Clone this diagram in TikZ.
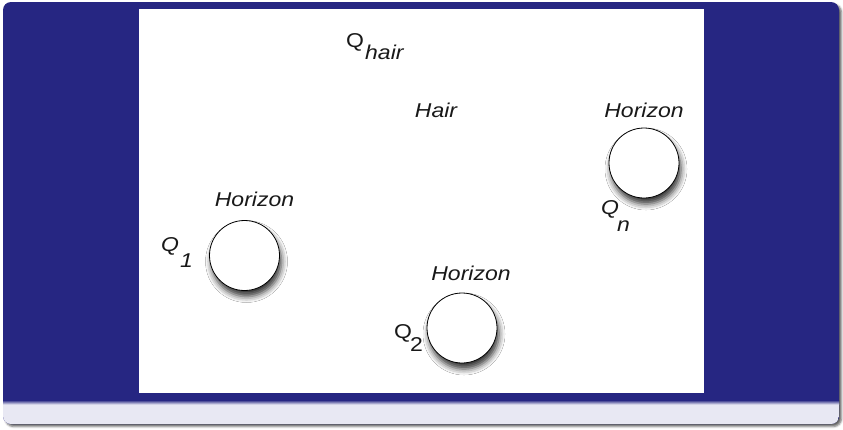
\documentclass[tikz,border=0pt]{standalone}
\usepackage{fontspec}
\newfontfamily\labfont{Liberation Sans}[FakeStretch=1.15]
\usetikzlibrary{shadows.blur}
\definecolor{blockblue}{RGB}{38,38,130}
\definecolor{blockbody}{RGB}{232,232,243}
\begin{document}
\begin{tikzpicture}[x=1pt,y=-1pt,
  circ/.style={circle, draw=black, line width=0.8pt, fill=white, minimum size=70pt, inner sep=0pt,
    blur shadow={shadow xshift=2pt, shadow yshift=-6pt, shadow blur radius=6pt, shadow opacity=80}},
  lab/.style={font=\labfont\itshape\fontsize{20}{23}\selectfont, inner sep=0pt, anchor=base, text=black!90},
  labw/.style={lab, anchor=base west},
  labu/.style={labw, font=\labfont\fontsize{20}{23}\selectfont}]
\useasboundingbox (0,0) rectangle (843,429);
% block frame
\fill[blockblue, rounded corners=8pt,
  blur shadow={shadow xshift=2.5pt, shadow yshift=-2.5pt, shadow blur radius=2pt, shadow opacity=60}]
  (3,2) rectangle (839,424);
\begin{scope}
  \clip[rounded corners=8pt] (3,2) rectangle (839,424);
  \fill[blockbody] (3,404) rectangle (839,424);
  \shade[top color=blockblue, bottom color=blockbody] (3,400) rectangle (839,404.5);
\end{scope}
\fill[white] (139,9) rectangle (704,393);
% circles
\node[circ] (c1) at (244.5,255.5) {};
\node[circ] (c2) at (462,328) {};
\node[circ] (cn) at (644,163) {};
% labels
\node[labu] (qh) at (346,47) {Q};
\node[labw] (qhs) at (365,59) {hair};
\node[lab] (hair) at (436,117) {Hair};
\node[lab] (hn) at (644,117) {Horizon};
\node[labw] (qn) at (601,214) {Q};
\node[labw] (qns) at (617,231) {n};
\node[lab] (h1) at (254.5,206) {Horizon};
\node[labw] (q1) at (161,251) {Q};
\node[labw] (q1s) at (180,267) {1};
\node[lab] (h2) at (471,280) {Horizon};
\node[labu] (q2) at (394,338) {Q};
\node[labu] (q2s) at (410,351) {2};
\end{tikzpicture}
\end{document}
